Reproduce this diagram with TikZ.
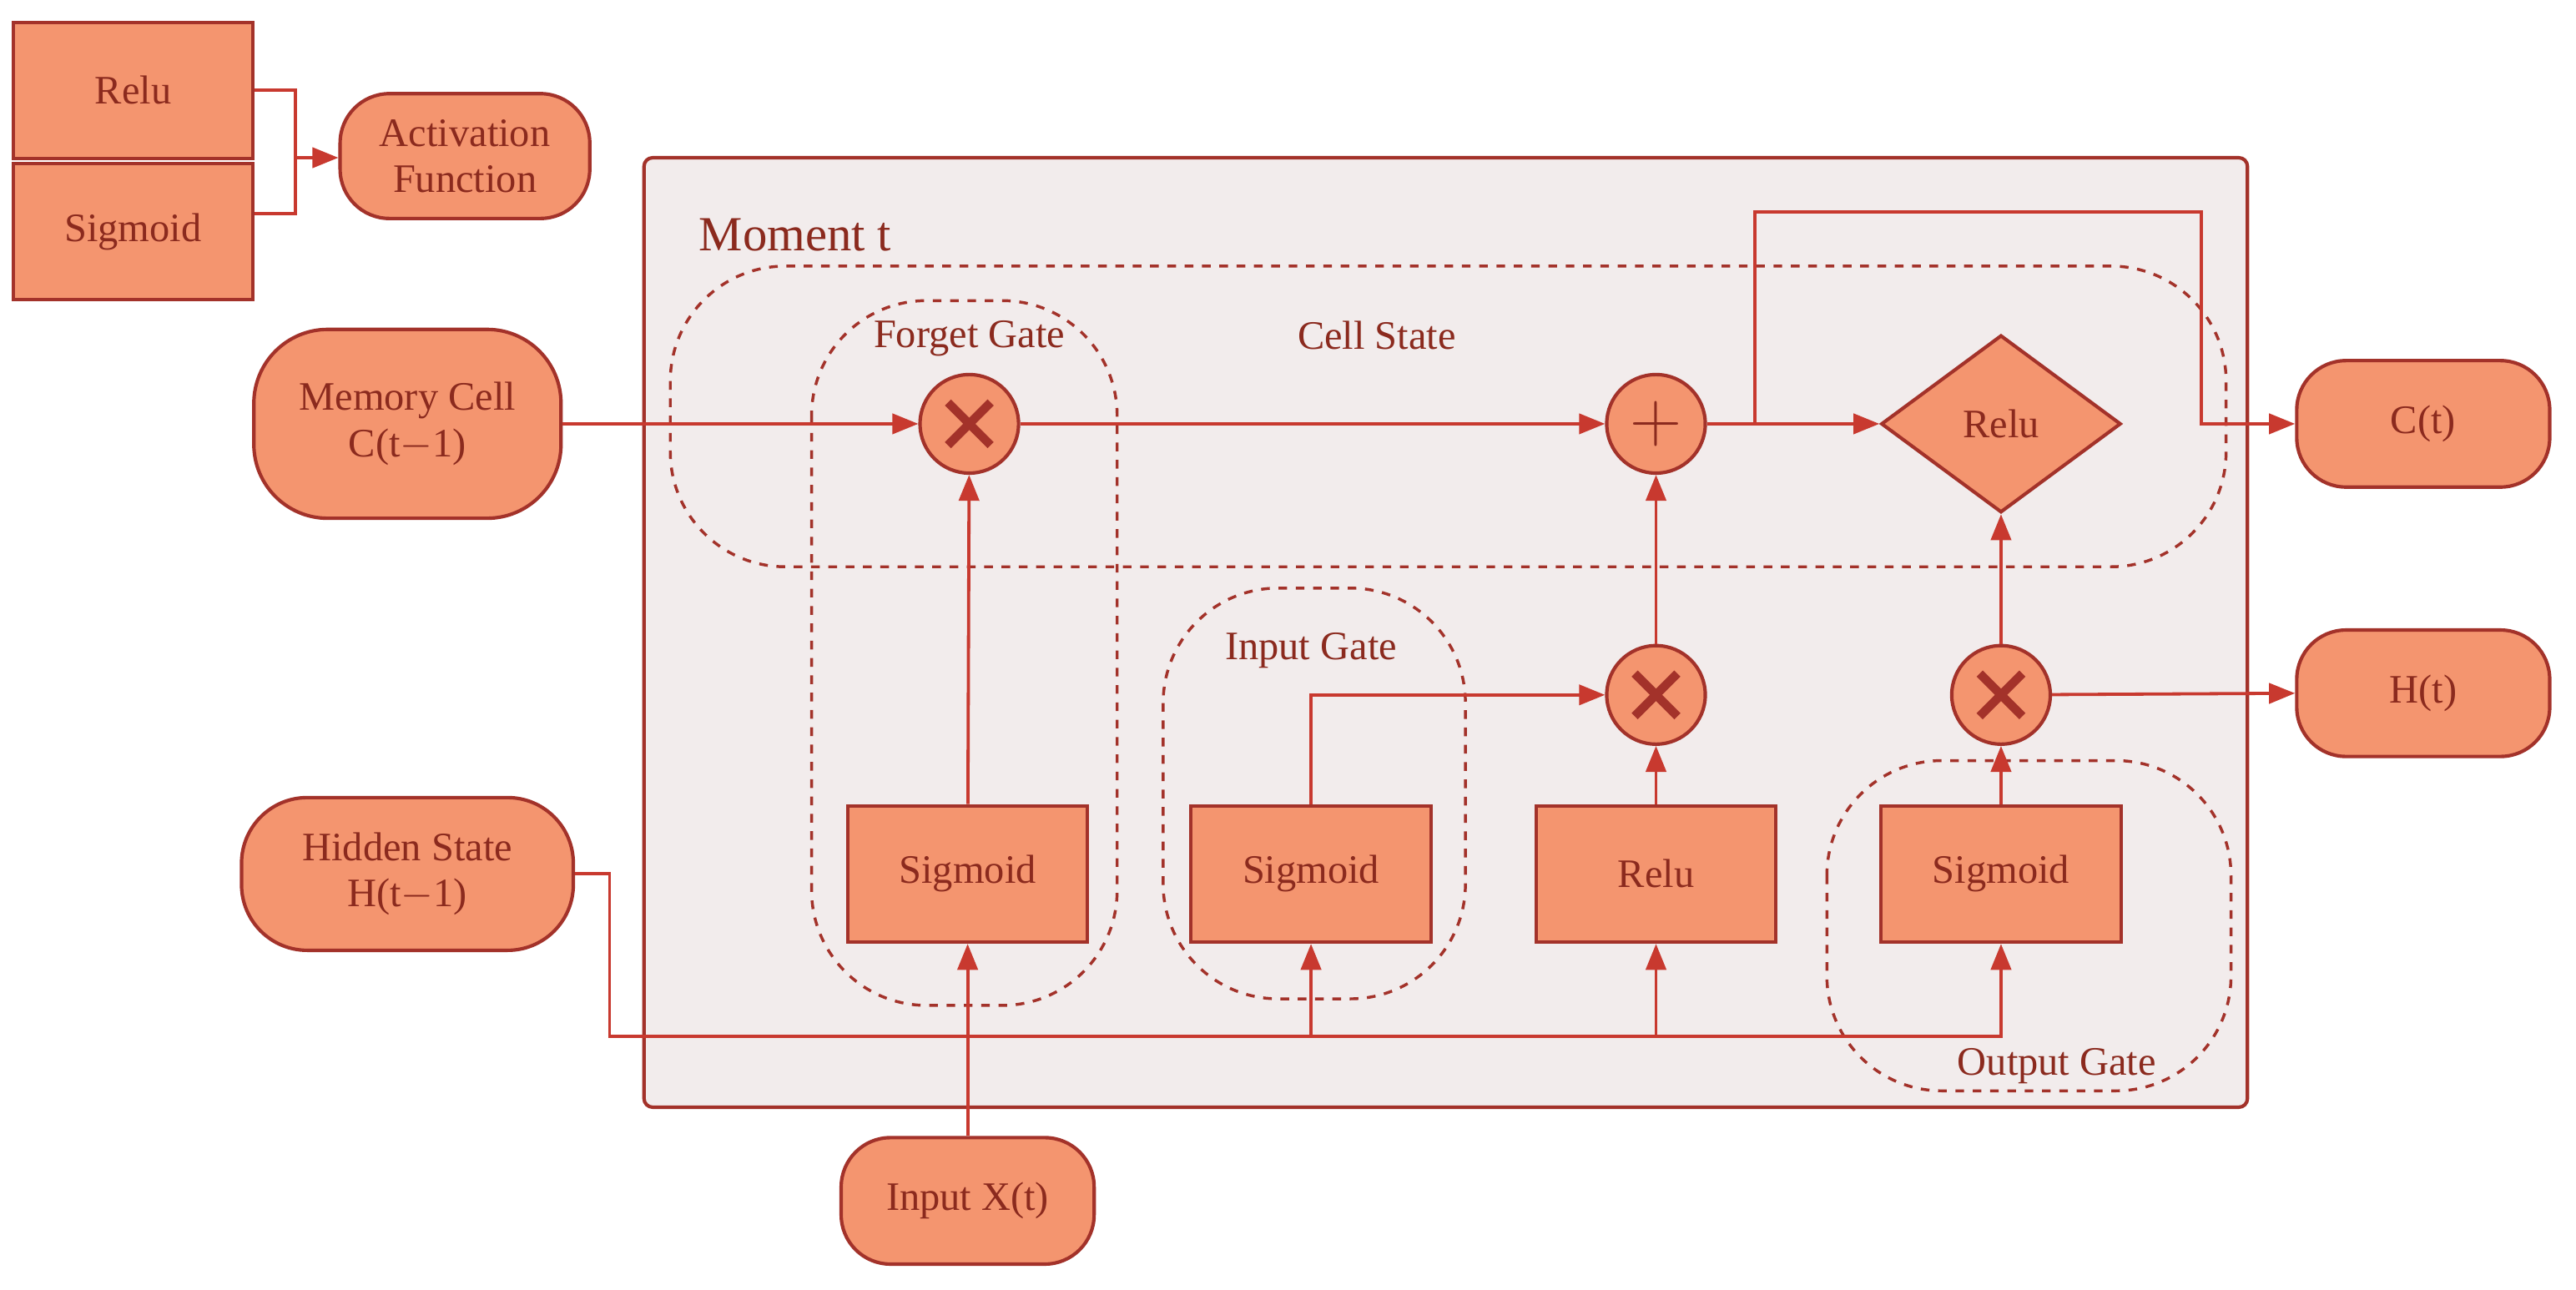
\documentclass[tikz,border=0pt]{standalone}
\usepackage{fontspec}
\setmainfont{Liberation Serif}
\usetikzlibrary{shapes.geometric,arrows.meta}
\definecolor{fillc}{HTML}{F4956F}
\definecolor{bord}{HTML}{A3322A}
\definecolor{txt}{HTML}{8B2A1E}
\definecolor{bg}{HTML}{F2ECEC}
\definecolor{arr}{HTML}{C8392F}
\begin{document}
\begin{tikzpicture}[x=0.02cm,y=-0.02cm,
 font=\fontsize{14}{16}\selectfont, text=txt,
 box/.style={draw=bord,line width=1.2pt,fill=fillc,minimum width=2.92cm,minimum height=1.66cm,inner sep=0},
 term/.style={draw=bord,line width=1.2pt,fill=fillc,rounded corners=0.6cm,minimum width=3.08cm,minimum height=1.54cm,align=center,inner sep=0},
 op/.style={circle,draw=bord,line width=1.2pt,fill=fillc,minimum size=1.2cm,inner sep=0},
 gatebox/.style={draw=bord,dashed,line width=1pt,rounded corners=1.4cm},
 con/.style={draw=arr,line width=1.1pt},
 ar/.style={con,-{Triangle[length=9pt,width=7pt]}},
 crs/.style={draw=bord,line width=3pt},
 lbl/.style={text=txt}]
\useasboundingbox (0,0) rectangle (1568,785);
\fill[white] (0,0) rectangle (1568,785);
% activation legend
\node[box] (lrelu) at (81,55) {Relu};
\node[box] (lsig) at (81,141) {Sigmoid};
\node[term,minimum width=3.04cm,minimum height=1.52cm] (act) at (283,95) {Activation\\Function};
\coordinate (lj) at (180,96);
\draw[con] (lrelu.east) -- (180,55) -- (180,130) -- (lsig.east|-180,130);
\draw[ar] (lj) -- (act.west|-lj);
% moment box
\draw[draw=bord,line width=1.2pt,fill=bg,rounded corners=3pt] (392,96) rectangle (1368,674);
\node[lbl,font=\fontsize{17}{19}\selectfont] (mt) at (484,143) {Moment t};
\draw[gatebox] (408,162) rectangle (1355,345);
\node[lbl] (cs) at (838,204) {Cell State};
\draw[gatebox] (494,183) rectangle (680,612);
\node[lbl] (fg) at (590,206) {Forget Gate};
\draw[gatebox] (708,358) rectangle (892,608);
\node[lbl] (ig) at (798,396) {Input Gate};
\draw[gatebox] (1112,463) rectangle (1358,664);
\node[lbl] (og) at (1252,649) {Output Gate};
% terminals
\node[term,minimum width=3.74cm,minimum height=2.3cm,rounded corners=0.9cm] (mc) at (248,258) {Memory Cell\\C(t$-$1)};
\node[term,minimum width=4.04cm,minimum height=1.86cm,rounded corners=0.8cm] (hs) at (248,532) {Hidden State\\H(t$-$1)};
\node[term] (xin) at (589,731) {Input X(t)};
\node[term] (ct) at (1475,258) {C(t)};
\node[term] (ht) at (1475,422) {H(t)};
% ops
\node[op] (fx) at (590,258) {};
\node[op] (pl) at (1008,258) {\fontsize{26}{26}\selectfont$+$};
\node[op] (ix) at (1008,423) {};
\node[op] (ox) at (1218,423) {};
\foreach \n in {fx,ix,ox}{
 \draw[crs] ([shift={(-13,-13)}]\n.center) -- ([shift={(13,13)}]\n.center);
 \draw[crs] ([shift={(-13,13)}]\n.center) -- ([shift={(13,-13)}]\n.center);
}
\node[diamond,draw=bord,line width=1.2pt,fill=fillc,minimum width=2.92cm,minimum height=2.16cm,inner sep=0,aspect=1.35] (dr) at (1218,258) {Relu};
% boxes
\node[box] (s1) at (589,532) {Sigmoid};
\node[box] (s2) at (798,532) {Sigmoid};
\node[box] (r1) at (1008,532) {Relu};
\node[box] (s3) at (1218,532) {Sigmoid};
% connectors
\draw[ar] (mc.east) -- (fx);
\draw[ar] (fx) -- (pl);
\draw[ar] (pl) -- (dr);
\coordinate (br) at (1068,258);
\draw[ar] (br) -- (1068,129) -- (1340,129) -- (1340,258) -- (ct.west);
\draw[ar] (s1) -- (fx);
\draw[ar] (s2.north) -- (798,423) -- (ix);
\draw[ar] (r1) -- (ix);
\draw[ar] (ix) -- (pl);
\draw[ar] (s3) -- (ox);
\draw[ar] (ox) -- (dr.south);
\draw[ar] (ox) -- (ht.west);
\draw[ar] (xin) -- (s1);
\coordinate (hb) at (371,631);
\draw[ar] (hs.east|-371,532) -- (371,532) -- (hb) -- (1218,631) -- (s3.south);
\draw[ar] (798,631) -- (s2.south);
\draw[ar] (1008,631) -- (r1.south);
\end{tikzpicture}
\end{document}
